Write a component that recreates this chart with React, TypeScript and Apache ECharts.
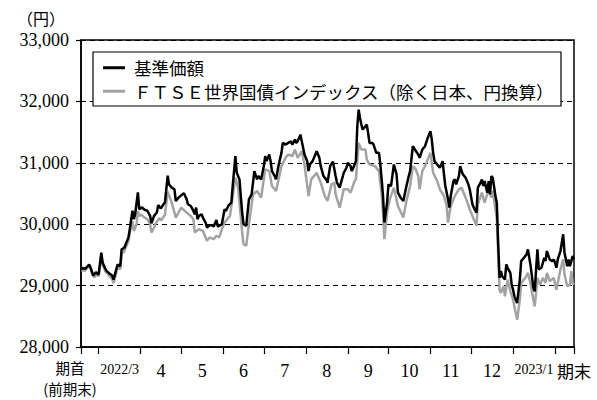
import React, { useEffect, useRef } from "react";
import * as echarts from "echarts";

// Fiscal period: 2022-02-16 (期首) to 2023-02-15 (期末); x is the day offset from the start
const START_UTC = Date.UTC(2022, 1, 16);
const DAY_MS = 86400000;
const dayIndex = (y: number, m: number, d: number) =>
  Math.round((Date.UTC(y, m - 1, d) - START_UTC) / DAY_MS);
const LAST_DAY = dayIndex(2023, 2, 15);

const monthStarts: [number, number][] = [
  [2022, 3], [2022, 4], [2022, 5], [2022, 6], [2022, 7], [2022, 8],
  [2022, 9], [2022, 10], [2022, 11], [2022, 12], [2023, 1], [2023, 2],
];
const monthLabels = ["2022/3", "4", "5", "6", "7", "8", "9", "10", "11", "12", "2023/1"];
const startLabel = "期首";
const startSubLabel = "(前期末)";
const endLabel = "期末";

const yTicks = [28000, 29000, 30000, 31000, 32000, 33000];

const seriesNames = ["基準価額", "ＦＴＳＥ世界国債インデックス（除く日本、円換算）"];

const navDays = [0,1,3,5,6,8,9,11,13,15,16,18,19,21,23,24,26,27,29,30,32,33,35,36,38,39,40,42,43,45,47,49,51,52,54,56,57,59,61,62,64,65,67,69,70,72,74,76,78,79,81,83,84,85,86,87,89,90,92,93,95,97,98,100,101,102,104,106,107,109,111,112,114,115,117,119,120,122,124,126,127,128,130,131,133,135,136,137,139,140,141,143,144,146,148,149,151,153,155,156,158,159,160,162,163,165,167,168,169,171,174,176,177,179,181,182,184,186,188,189,191,192,194,196,197,199,200,202,203,204,205,206,207,208,210,211,212,213,215,216,218,220,221,222,223,224,226,227,228,229,231,233,234,236,238,240,242,243,245,247,249,250,252,254,256,258,259,260,261,263,265,267,268,269,271,272,273,275,276,277,279,280,281,282,284,286,287,289,290,292,293,295,296,297,298,300,301,302,303,304,306,307,308,309,310,311,313,314,315,317,318,319,320,322,324,325,327,329,330,332,334,335,336,337,338,340,342,343,344,346,348,349,350,351,352,354,355,356,357,359,360,361,362,363,364];
const navValues = [29260,29290,29273,29317,29344,29235,29164,29218,29180,29535,29372,29273,29235,29197,29164,29098,29262,29344,29317,29590,29617,29672,29781,29918,30219,30082,30164,30519,30246,30273,30235,30219,30137,30016,30137,30191,30311,30257,30328,30355,30792,30649,30595,30568,30378,30432,30470,30503,30405,30324,30297,30216,30162,30270,30081,30135,30162,30108,30027,29946,29984,29984,29962,30070,29962,29973,30000,30243,30216,30308,30351,30622,31108,30838,30730,30189,30000,29973,30405,30486,30676,30865,30730,30784,30730,30946,31108,31027,31135,31027,30865,30784,30730,30973,31162,31324,31297,31324,31351,31297,31378,31324,31351,31459,31351,31135,31027,30865,30973,31027,31189,31081,30946,30784,30730,30676,30950,31020,30784,30676,30595,30676,30838,30919,31000,30946,30865,30973,31027,31595,31865,31730,31622,31541,31595,31622,31486,31324,31324,31297,31162,31162,30973,30730,30459,30027,30351,30649,30622,30632,30973,30811,30514,30432,30378,30595,30784,30865,31270,31200,31135,31081,31216,31270,31405,31514,31378,31162,31027,30973,30919,31027,30811,30622,30405,30270,30459,30703,30730,30649,30784,30946,30865,30811,30757,30649,30568,30324,30270,30189,30595,30676,30730,30622,30703,30514,30703,30486,30784,30757,30459,30351,29699,29126,29235,29153,29098,29344,29290,29208,29016,28934,28825,28716,29098,29399,29454,29508,29590,29317,28962,28907,29262,29590,29262,29290,29454,29399,29563,29426,29399,29426,29372,29290,29426,29563,29699,29836,29536,29317,29426,29317,29399,29481,29426];

const indexDays = [0,1,3,5,7,8,10,11,13,15,16,18,20,21,23,24,26,27,29,30,32,33,35,36,38,39,41,42,43,44,47,49,51,52,54,55,58,59,61,62,64,67,70,74,78,81,83,84,87,90,93,95,98,100,102,104,106,110,114,116,119,120,122,124,127,130,133,136,139,141,144,148,151,153,156,158,160,163,165,168,170,174,177,180,182,185,187,188,191,194,197,199,202,203,205,207,210,211,213,217,220,222,223,224,226,228,231,234,238,240,243,245,247,249,250,252,254,258,260,263,265,268,270,271,273,276,279,281,284,287,290,292,293,296,298,301,303,304,306,307,308,309,310,312,313,315,317,319,321,322,324,325,328,330,332,334,335,337,339,341,343,344,346,349,351,352,354,356,357,359,361,362,363,364];
const indexValues = [29250,29250,29240,29300,29320,29200,29130,29190,29150,29480,29330,29230,29190,29150,29110,29040,29200,29290,29270,29520,29560,29620,29720,29860,30050,29890,30000,30219,30130,30160,30110,30080,30000,29863,29950,30010,30100,30060,30120,30160,30530,30351,30108,30270,30189,30135,30081,29865,29919,29892,29730,29784,29757,29811,29784,29919,30027,30135,30757,30595,29865,29676,29649,30000,30486,30541,30432,30892,30865,30622,30541,30946,31081,31135,31108,31216,31081,31189,30973,30459,30730,30838,30676,30459,30378,30649,30676,30486,30270,30568,30568,30514,30703,30730,31324,31216,31216,31054,30973,30946,30865,30486,30189,29757,30189,30405,30595,30297,30108,30351,30622,30946,30900,30784,30568,30865,30946,31162,30838,30703,30568,30459,30297,30027,30297,30459,30568,30595,30432,30243,30081,29973,30324,30514,30351,30568,30432,30546,30243,30082,29536,28934,28880,28989,28825,29098,28907,28770,28552,28443,28770,29044,29126,29208,29016,28770,28661,29126,29016,29126,29044,29208,29071,29126,28934,29044,29262,29426,29180,28989,29016,29235,29044,29016];

const NUM_FONT = "Liberation Serif, DejaVu Serif, serif";
const JP_FONT = "Noto Sans CJK JP, sans-serif";

export default function App() {
  const ref = useRef<HTMLDivElement>(null);

  useEffect(() => {
    if (!ref.current) return;
    const chart = echarts.init(ref.current, undefined, { renderer: "svg" });

    const starts = monthStarts.map(([y, m]) => dayIndex(y, m, 1));
    const tickDays = [0, ...starts, LAST_DAY];
    const labelDays: number[] = [];
    const labelTexts: string[] = [];
    for (let i = 0; i < monthLabels.length; i++) {
      labelDays.push((starts[i] + starts[i + 1]) / 2);
      labelTexts.push(monthLabels[i]);
    }
    labelDays.push(LAST_DAY);
    labelTexts.push(endLabel);

    const fmtX = (v: number) => {
      const i = labelDays.findIndex((d) => Math.abs(d - v) < 0.01);
      if (i < 0) return "";
      const t = labelTexts[i];
      if (t.includes("/")) return `{narrow|${t}}`;
      if (t === endLabel) return `{jp|${t}}`;
      return t;
    };

    chart.setOption({
      animation: false,
      backgroundColor: "#ffffff",
      grid: {
        left: 81,
        right: 23,
        top: 40,
        bottom: 53,
        show: true,
        borderColor: "#000",
        borderWidth: 1.5,
      },
      legend: {
        orient: "vertical",
        left: 93,
        top: 52,
        data: seriesNames,
        icon: "rect",
        backgroundColor: "#fff",
        borderColor: "#000",
        borderWidth: 1.2,
        borderRadius: 0,
        padding: [7, 7, 6, 10],
        itemGap: 6,
        itemWidth: 22,
        itemHeight: 3,
        textStyle: {
          fontFamily: JP_FONT,
          fontSize: 17.5,
          color: "#000",
          padding: [0, 0, 0, 4],
        },
      },
      xAxis: [
        {
          type: "value",
          min: 0,
          max: LAST_DAY,
          position: "bottom",
          axisLine: { show: true, lineStyle: { color: "#000", width: 1.5 } },
          splitLine: { show: false },
          axisTick: {
            show: true,
            customValues: tickDays,
            length: 7,
            lineStyle: { color: "#000", width: 1.2 },
          },
          axisLabel: {
            margin: 15,
            color: "#000",
            fontFamily: NUM_FONT,
            fontSize: 18,
            customValues: labelDays,
            showMaxLabel: true,
            formatter: fmtX,
            rich: {
              narrow: { fontFamily: NUM_FONT, fontSize: 14 },
              jp: { fontFamily: JP_FONT, fontSize: 17 },
            },
          },
        },
        {
          type: "value",
          min: 0,
          max: LAST_DAY,
          position: "bottom",
          axisLine: { show: false },
          axisTick: { show: false },
          splitLine: { show: false },
          axisLabel: {
            margin: 10,
            color: "#000",
            fontFamily: JP_FONT,
            fontSize: 14.5,
            lineHeight: 21,
            customValues: [0],
            showMinLabel: true,
            formatter: () => `{first|${startLabel}}\n{first|${startSubLabel}}`,
            rich: {
              first: {
                fontFamily: JP_FONT,
                fontSize: 14.5,
                lineHeight: 21,
                padding: [0, 22, 0, 0],
              },
            },
          },
        },
      ],
      yAxis: {
        type: "value",
        min: yTicks[0],
        max: yTicks[yTicks.length - 1],
        interval: 1000,
        name: "（円）",
        nameLocation: "end",
        nameGap: 14,
        nameTextStyle: {
          fontFamily: JP_FONT,
          fontSize: 16,
          color: "#000",
          align: "right",
          padding: [0, 16, 0, 0],
        },
        axisLine: { show: true, lineStyle: { color: "#000", width: 1.5 } },
        axisTick: { show: true, length: 5, lineStyle: { color: "#000", width: 1.2 } },
        axisLabel: {
          margin: 12,
          color: "#000",
          fontFamily: NUM_FONT,
          fontSize: 18,
          formatter: (v: number) => v.toLocaleString("en-US"),
        },
        splitLine: {
          show: true,
          lineStyle: { color: "#000", width: 1, type: [5, 4] },
        },
      },
      series: [
        {
          name: seriesNames[0],
          type: "line",
          xAxisIndex: 0,
          data: navDays.map((d, i) => [d, navValues[i]]),
          showSymbol: false,
          symbol: "none",
          z: 4,
          color: "#000",
          lineStyle: { color: "#000", width: 2.5 },
        },
        {
          name: seriesNames[1],
          type: "line",
          xAxisIndex: 0,
          data: indexDays.map((d, i) => [d, indexValues[i]]),
          showSymbol: false,
          symbol: "none",
          z: 3,
          color: "#a3a3a3",
          lineStyle: { color: "#a3a3a3", width: 2.5 },
        },
      ],
    });

    return () => chart.dispose();
  }, []);

  return (
    <div
      ref={ref}
      style={{ position: "fixed", left: 0, top: 0, width: 597, height: 400, background: "#fff" }}
    />
  );
}
